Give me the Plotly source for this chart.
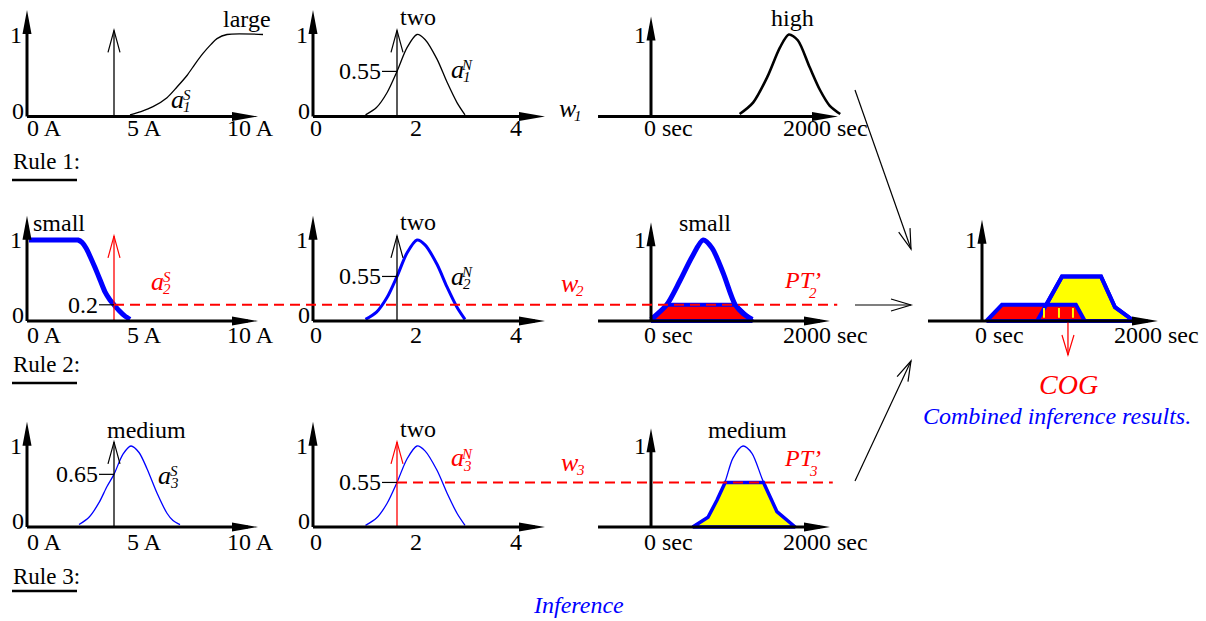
import math
import plotly.graph_objects as go

W, H = 1206, 621
FONT = "Liberation Serif"

# ---------------- data ----------------
# inputs
input_current = 4.35      # A
input_number = 1.68
mu1_number = 0.55
w2_level = 0.2
mu2_number = 0.55
mu3_current = 0.65
w3_level = 0.55
cog_time = 1154           # sec

# Rule 1
large_x = [5.15, 5.7, 6.3, 7.0, 7.5, 8.0, 8.4, 8.8, 9.2, 9.5, 10.0, 11.8]
large_y = [0.02, 0.06, 0.12, 0.23, 0.36, 0.5, 0.64, 0.77, 0.88, 0.95, 1.0, 1.0]
two_x = [1.05, 1.27, 1.48, 1.68, 1.88, 2.08, 2.24, 2.48, 2.68, 2.88, 3.04]
two_y = [0.02, 0.11, 0.29, 0.55, 0.84, 1.0, 0.94, 0.7, 0.42, 0.17, 0.02]
high_x = [1190, 1370, 1560, 1730, 1850, 1970, 2130, 2270, 2400, 2540]
high_y = [0.03, 0.17, 0.48, 0.84, 1.0, 0.93, 0.6, 0.32, 0.13, 0.03]

# Rule 2
small_a_x = [0.1, 2.3, 2.55, 2.75, 2.95, 3.15, 3.4, 3.65, 3.9, 4.15, 4.35, 4.6, 4.9, 5.15]
small_a_y = [1.0, 1.0, 1.0, 0.97, 0.9, 0.8, 0.66, 0.51, 0.36, 0.26, 0.2, 0.13, 0.06, 0.02]
small_t_x = [0, 210, 390, 550, 700, 820, 970, 1130, 1240, 1360]
small_t_y = [0.02, 0.2, 0.5, 0.79, 1.0, 0.9, 0.59, 0.2, 0.09, 0.02]
pt2_x = [0, 215, 1130, 1360]
pt2_y = [0, 0.2, 0.2, 0]

# Rule 3
medium_a_x = [2.6, 3.1, 3.6, 4.0, 4.35, 4.8, 5.2, 5.6, 6.0, 6.5, 7.0, 7.3, 7.65]
medium_a_y = [0.03, 0.12, 0.3, 0.5, 0.65, 0.9, 1.0, 0.92, 0.72, 0.42, 0.17, 0.08, 0.03]
medium_t_x = [560, 765, 885, 995, 1100, 1235, 1355, 1490, 1600, 1690, 1935]
medium_t_y = [0.01, 0.12, 0.33, 0.56, 0.85, 1.0, 0.91, 0.6, 0.37, 0.19, 0.01]
pt3_x = [560, 765, 885, 995, 1510, 1600, 1690, 1935]
pt3_y = [0, 0.12, 0.33, 0.55, 0.55, 0.37, 0.19, 0]

# Combined
comb_red_x = [60, 268, 1260, 1380]
comb_red_y = [0, 0.2, 0.2, 0]
comb_yellow_x = [740, 886, 1074, 1597, 1785, 2040]
comb_yellow_y = [0, 0.235, 0.55, 0.55, 0.17, 0]
stripe_x = [832, 832, None, 1033, 1033, None, 1221, 1221]
stripe_y = [0.04, 0.16, None, 0.04, 0.16, None, 0.04, 0.16]

current_tick_vals = [0, 5, 10]
current_tick_text = ["0 A", "5 A", "10 A"]
number_tick_vals = [0, 2, 4]
number_tick_text = ["0", "2", "4"]
time_tick_vals = [0, 2000]
time_tick_text = ["0 sec", "2000 sec"]

# ---------------- layout geometry (pixels) ----------------
cols = {
    'A': dict(x0=27, sx=20.0, box=(0, 282)),
    'B': dict(x0=313, sx=50.0, box=(284, 592)),
    'T': dict(x0=651, sx=149 / 2000, box=(594, 890)),
    'C': dict(x0=982, sx=149 / 2000, box=(900, 1206)),
}
rows = {
    1: dict(y0=116.5, sy=82.0, box=(0, 150)),
    2: dict(y0=321, sy=81.0, box=(195, 352)),
    3: dict(y0=527, sy=81.0, box=(400, 565)),
    'c': dict(y0=321, sy=81.0, box=(200, 362)),
}
panels = [('A', 1), ('B', 1), ('T', 1), ('A', 2), ('B', 2), ('T', 2),
          ('A', 3), ('B', 3), ('T', 3), ('C', 'c')]

layout = dict(width=W, height=H, margin=dict(l=0, r=0, t=0, b=0),
              paper_bgcolor='white', plot_bgcolor='rgba(0,0,0,0)',
              showlegend=False)
axmap = {}
for i, (c, r) in enumerate(panels, start=1):
    cc, rr = cols[c], rows[r]
    L, R = cc['box']
    T, B = rr['box']
    sfx = '' if i == 1 else str(i)
    layout['xaxis' + sfx] = dict(domain=[L / W, R / W],
                                 range=[(L - cc['x0']) / cc['sx'], (R - cc['x0']) / cc['sx']],
                                 visible=False, anchor='y' + sfx, fixedrange=True)
    layout['yaxis' + sfx] = dict(domain=[1 - B / H, 1 - T / H],
                                 range=[(rr['y0'] - B) / rr['sy'], (rr['y0'] - T) / rr['sy']],
                                 visible=False, anchor='x' + sfx, fixedrange=True)
    axmap[(c, r)] = ('x' + sfx, 'y' + sfx)

traces = []
shapes = []
annotations = []


def px(c, v):
    return cols[c]['x0'] + v * cols[c]['sx']


def curve(p, x, y, color, width, smooth=True, smoothing=0.8):
    xa, ya = axmap[p]
    traces.append(go.Scatter(x=x, y=y, xaxis=xa, yaxis=ya, mode='lines', hoverinfo='skip',
                             line=dict(color=color, width=width,
                                       shape='spline' if smooth else 'linear',
                                       smoothing=smoothing)))


def polygon(p, x, y, fill, edge, width):
    xa, ya = axmap[p]
    traces.append(go.Scatter(x=list(x) + [x[0]], y=list(y) + [y[0]], xaxis=xa, yaxis=ya,
                             mode='lines', fill='toself', fillcolor=fill, hoverinfo='skip',
                             line=dict(color=edge, width=width)))


def head_path(dx, dy, L, hw, filled):
    # dx, dy: direction (y up); returns a pixel path with tip at 0,0
    n = math.hypot(dx, dy)
    dx, dy = dx / n, dy / n
    pxp, pyp = -dy, dx
    lx, ly = -L * dx + hw * pxp, -L * dy + hw * pyp
    rx, ry = -L * dx - hw * pxp, -L * dy - hw * pyp
    if filled:
        return f"M0,0 L{lx:.2f},{ly:.2f} L{rx:.2f},{ry:.2f} Z"
    return f"M{lx:.2f},{ly:.2f} L0,0 L{rx:.2f},{ry:.2f}"


def head(xref, yref, x, y, dx, dy, color, filled, L=24, hw=4.5, width=1.2):
    s = dict(type='path', xref=xref, yref=yref, xsizemode='pixel', ysizemode='pixel',
             xanchor=x, yanchor=y, path=head_path(dx, dy, L, hw, filled), layer='above')
    if filled:
        s.update(fillcolor=color, line=dict(width=0))
    else:
        s.update(line=dict(color=color, width=width))
    shapes.append(s)


def axes_arrows(p, xmin, xtip, ytip):
    xa, ya = axmap[p]
    sx = cols[p[0]]['sx']
    sy = rows[p[1]]['sy']
    shapes.append(dict(type='line', xref=xa, yref=ya, x0=xmin, x1=xtip - 10 / sx, y0=0, y1=0,
                       line=dict(color='black', width=3)))
    head(xa, ya, xtip, 0, 1, 0, 'black', True, L=26, hw=4.5)
    shapes.append(dict(type='line', xref=xa, yref=ya, x0=0, x1=0, y0=0, y1=ytip - 10 / sy,
                       line=dict(color='black', width=3)))
    head(xa, ya, 0, ytip, 0, 1, 'black', True, L=24, hw=4.5)


def input_arrow(p, xv, color):
    xa, ya = axmap[p]
    traces.append(go.Scatter(x=[xv, xv], y=[0, 1.05], xaxis=xa, yaxis=ya, mode='lines',
                             hoverinfo='skip', line=dict(color=color, width=1.3)))
    head(xa, ya, xv, 1.05, 0, 1, color, False, L=22, hw=6, width=1.2)


def mu_mark(p, xv, mu, label):
    xa, ya = axmap[p]
    sx = cols[p[0]]['sx']
    shapes.append(dict(type='line', xref=xa, yref=ya, x0=xv - 15 / sx, x1=xv, y0=mu, y1=mu,
                       line=dict(color='black', width=1.2)))
    annotations.append(dict(x=xv - 15 / sx, y=mu, xref=xa, yref=ya, text=label, showarrow=False,
                            xanchor='right', yanchor='middle', xshift=1,
                            font=dict(family=FONT, size=24, color='black')))


def text(pxx, pyy, s, size=24, color='black', xanchor='center', yanchor='middle'):
    annotations.append(dict(x=pxx / W, y=1 - pyy / H, xref='paper', yref='paper', text=s,
                            showarrow=False, xanchor=xanchor, yanchor=yanchor,
                            font=dict(family=FONT, size=size, color=color)))


def sym(pxx, pyy, base, sup, sub, color='black', size=26):
    # pxx, pyy: ink centre of the italic base letter
    text(pxx, pyy - 3, '<i>' + base + '</i>', size=size, color=color)
    if sup:
        text(pxx + 10, pyy - 7, '<i>' + sup + '</i>', size=15, color=color)
    if sub:
        text(pxx + 10, pyy + 5, '<i>' + sub + '</i>', size=15, color=color)


def xticks(p, vals, texts, pyy, mode):
    xa, ya = axmap[p]
    for v, t in zip(vals, texts):
        if mode == 'A':
            xs, xan = -2, 'left'
        elif mode == 'B':
            xs, xan = 3, 'center'
        else:
            xs, xan = (-9 if v == 0 else -19), 'left'
        annotations.append(dict(x=v, y=1 - pyy / H, xref=xa, yref='paper', text=t,
                                showarrow=False, xanchor=xan, yanchor='middle', xshift=xs,
                                font=dict(family=FONT, size=24, color='black')))


def ylabels(p, zero=True):
    xa, ya = axmap[p]
    annotations.append(dict(x=0, y=1, xref=xa, yref=ya, text='1', showarrow=False,
                            xanchor='right', yanchor='middle', xshift=-3,
                            font=dict(family=FONT, size=24, color='black')))
    if zero:
        annotations.append(dict(x=0, y=0, xref=xa, yref=ya, text='0', showarrow=False,
                                xanchor='right', yanchor='middle', xshift=-1, yshift=6,
                                font=dict(family=FONT, size=24, color='black')))


# ---------------- Rule 1 ----------------
curve(('A', 1), large_x, large_y, 'black', 1.3)
curve(('B', 1), two_x, two_y, 'black', 1.3)
curve(('T', 1), high_x, high_y, 'black', 2.6)

# ---------------- Rule 2 ----------------
curve(('A', 2), small_a_x, small_a_y, 'blue', 5, smoothing=0.6)
curve(('B', 2), two_x, two_y, 'blue', 3)
polygon(('T', 2), pt2_x, pt2_y, 'red', 'blue', 4)
curve(('T', 2), small_t_x, small_t_y, 'blue', 5)

# ---------------- Rule 3 ----------------
curve(('A', 3), medium_a_x, medium_a_y, 'blue', 1.3)
curve(('B', 3), two_x, two_y, 'blue', 1.3)
polygon(('T', 3), pt3_x, pt3_y, 'yellow', 'blue', 3.5)
curve(('T', 3), medium_t_x, medium_t_y, 'blue', 1.3)

# ---------------- Combined ----------------
polygon(('C', 'c'), comb_yellow_x, comb_yellow_y, 'yellow', 'blue', 4)
polygon(('C', 'c'), comb_red_x, comb_red_y, 'red', 'blue', 4)
xa, ya = axmap[('C', 'c')]
traces.append(go.Scatter(x=list(comb_yellow_x) + [comb_yellow_x[0]],
                         y=list(comb_yellow_y) + [comb_yellow_y[0]], xaxis=xa, yaxis=ya,
                         mode='lines', hoverinfo='skip', line=dict(color='blue', width=4)))
traces.append(go.Scatter(x=stripe_x, y=stripe_y, xaxis=xa, yaxis=ya, mode='lines',
                         hoverinfo='skip', line=dict(color='yellow', width=2)))
traces.append(go.Scatter(x=[cog_time, cog_time], y=[0, -0.42], xaxis=xa, yaxis=ya, mode='lines',
                         hoverinfo='skip', line=dict(color='red', width=1.3)))
head(xa, ya, cog_time, -0.42, 0, -1, 'red', False, L=20, hw=6, width=1.2)

# ---------------- axes ----------------
for r in (1, 2, 3):
    axes_arrows(('A', r), 0, 11.55, 1.3)
    axes_arrows(('B', r), 0, 4.64, 1.3)
    axes_arrows(('T', r), -711, 2510 if r == 1 else 2403, 1.22)
axes_arrows(('C', 'c'), -725, 2362, 1.25)

# input arrows
input_arrow(('A', 1), input_current, 'black')
input_arrow(('B', 1), input_number, 'black')
input_arrow(('A', 2), input_current, 'red')
input_arrow(('B', 2), input_number, 'black')
input_arrow(('A', 3), input_current, 'black')
input_arrow(('B', 3), input_number, 'red')

mu_mark(('B', 1), input_number, mu1_number, '0.55')
mu_mark(('A', 2), input_current, w2_level, '0.2')
mu_mark(('B', 2), input_number, mu2_number, '0.55')
mu_mark(('A', 3), input_current, mu3_current, '0.65')
mu_mark(('B', 3), input_number, w3_level, '0.55')

# red dashed firing levels
xa2, ya2 = axmap[('A', 2)]
shapes.append(dict(type='line', xref='paper', yref=ya2,
                   x0=px('A', input_current) / W, x1=px('T', 2500) / W, y0=w2_level, y1=w2_level,
                   line=dict(color='red', width=2, dash='10px,6px'), layer='above'))
xa3, ya3 = axmap[('B', 3)]
shapes.append(dict(type='line', xref='paper', yref=ya3,
                   x0=px('B', input_number) / W, x1=px('T', 2440) / W, y0=w3_level, y1=w3_level,
                   line=dict(color='red', width=2, dash='10px,6px'), layer='above'))

# tick labels
for r, pyy in ((1, 128), (2, 335), (3, 542)):
    xticks(('A', r), current_tick_vals, current_tick_text, pyy, 'A')
    xticks(('B', r), number_tick_vals, number_tick_text, pyy, 'B')
    xticks(('T', r), time_tick_vals, time_tick_text, pyy, 'T')
    ylabels(('A', r))
    ylabels(('B', r))
    ylabels(('T', r), zero=False)
xticks(('C', 'c'), time_tick_vals, time_tick_text, 335, 'T')
ylabels(('C', 'c'), zero=False)

# fuzzy set names
text(247, 19, 'large')
text(418, 17, 'two')
text(792, 18, 'high')
text(59, 223, 'small')
text(418, 222, 'two')
text(705, 223, 'small')
text(146, 430, 'medium')
text(418, 429, 'two')
text(747, 430, 'medium')

# symbols
sym(177, 102, 'a', 'S', '1')
sym(457, 72, 'a', 'N', '1')
sym(568, 111, 'w', None, '1')
sym(157, 284, 'a', 'S', '2', color='red')
sym(457, 279, 'a', 'N', '2')
sym(570, 286, 'w', None, '2', color='red')
text(802, 280, "<i>PT\u2019</i>", size=24, color='red')
text(813, 293, '<i>2</i>', size=15, color='red')
sym(164, 478, 'a', 'S', '3')
sym(457, 461, 'a', 'N', '3', color='red')
sym(570, 465, 'w', None, '3', color='red')
text(802, 458, "<i>PT\u2019</i>", size=24, color='red')
text(813, 471, '<i>3</i>', size=15, color='red')

# rule labels
for pyy, uy, s in ((161, 180, 'Rule 1:'), (364, 383, 'Rule 2:'), (576, 591, 'Rule 3:')):
    text(11, pyy, s, size=23, xanchor='left')
    shapes.append(dict(type='line', xref='paper', yref='paper', x0=12 / W, x1=77 / W,
                       y0=1 - uy / H, y1=1 - uy / H, line=dict(color='black', width=2.5)))

text(578, 605, '<i>Inference</i>', size=24, color='blue')
text(1068, 384, '<i>COG</i>', size=28, color='red')
text(1057, 416, '<i>Combined inference results.</i>', size=24, color='blue')

# connecting arrows (paper space)
for (sx0, sy0), (ex, ey) in (((855, 90), (911, 249)), ((855, 305), (911, 305)),
                             ((855, 481), (911, 361))):
    shapes.append(dict(type='line', xref='paper', yref='paper', x0=sx0 / W, y0=1 - sy0 / H,
                       x1=ex / W, y1=1 - ey / H, line=dict(color='black', width=1.2)))
    head('paper', 'paper', ex / W, 1 - ey / H, ex - sx0, -(ey - sy0), 'black', False,
         L=20, hw=6, width=1.2)

layout['shapes'] = shapes
layout['annotations'] = annotations
fig = go.Figure(data=traces, layout=layout)
fig.write_html("out.html", config={'displayModeBar': False},
               post_script="document.body.style.margin='0';document.body.style.padding='0';")
